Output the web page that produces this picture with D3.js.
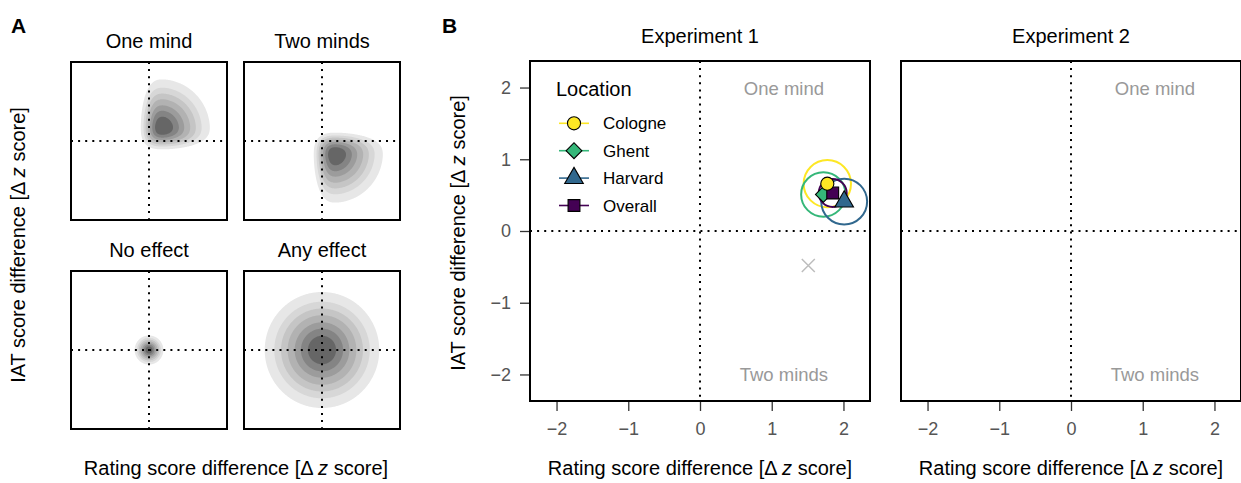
<!DOCTYPE html>
<html><head><meta charset="utf-8">
<script src="https://cdn.jsdelivr.net/npm/d3@7"></script>
<style>body{margin:0;background:#fff} text{font-family:"Liberation Sans",Arial,Helvetica,sans-serif}</style>
</head><body><svg id="c" width="1241" height="483"></svg>
<script>
// ---------- data ----------
const locations = ["Cologne", "Ghent", "Harvard", "Overall"];
const locColors = ["#FDE725", "#35B779", "#31688E", "#440154"];
const locShapes = ["circle", "diamond", "triangle", "square"];
const exp1X = [1.775, 1.72, 2.01, 1.85];     // rating score difference
const exp1Y = [0.66, 0.51, 0.41, 0.53];      // IAT score difference
const exp1R = [0.33, 0.31, 0.32, 0.195];     // confidence circle radius
const drawOrder = [1, 2, 3, 0];
const refX = [1.51];
const refY = [-0.48];
const tickValues = [-2, -1, 0, 1, 2];
const experiments = ["Experiment 1", "Experiment 2"];
const quadrantLabels = ["One mind", "Two minds"];
const quadrantLabelX = [1.17, 1.17];
const quadrantLabelY = [2, -2];
// schematic panel A
const schematicTitles = ["One mind", "Two minds", "No effect", "Any effect"];
const schematicMuX = [0.35, 0.35, 0, 0];
const schematicMuY = [0.35, -0.35, 0, 0];
const schematicSd = [0.62, 0.62, 0.18, 0.72];
const schematicTruncX = [1, 1, 0, 0];
const schematicTruncY = [1, -1, 0, 0];
const schematicSoft = [0.18, 0.18, 1, 1];
const densityLevels = [0.05, 0.125, 0.216, 0.34, 0.505, 0.667, 0.835];
const bandGrays = ["#e7e7e7", "#d7d7d7", "#c5c5c5", "#b2b2b2", "#9c9c9c", "#848484", "#666666"];

// ---------- helpers ----------
const svg = d3.select("#c");
svg.append("rect").attr("width", 1241).attr("height", 483).attr("fill", "#fff");
function Phi(z) {
  const t = 1 / (1 + 0.2316419 * Math.abs(z));
  const d = 0.3989423 * Math.exp(-z * z / 2);
  const p = d * t * (0.3193815 + t * (-0.3565638 + t * (1.781478 + t * (-1.821256 + t * 1.330274))));
  return z > 0 ? 1 - p : p;
}
const DOT = "2,5.1";
const tickFmt = d => (d < 0 ? "\u2212" : "") + Math.abs(d);
function labelText(g, base) {
  g.append("tspan").text(base + " [\u0394 ");
  g.append("tspan").attr("font-style", "italic").text("z");
  g.append("tspan").text(" score]");
}
function symbolPath(shape) {
  const map = {circle: [d3.symbolCircle, 135], diamond: [d3.symbolSquare, 125], triangle: [d3.symbolTriangle, 150], square: [d3.symbolSquare, 140]};
  const s = map[shape];
  return d3.symbol().type(s[0]).size(s[1])();
}
function drawSymbol(g, shape, color, cx, cy) {
  g.append("path").attr("d", symbolPath(shape))
    .attr("transform", `translate(${cx},${cy})` + (shape === "diamond" ? " rotate(45)" : ""))
    .attr("fill", color).attr("stroke", "#000").attr("stroke-width", 1.1);
}

// ---------- Panel A ----------
const aCols = [71, 244], aRows = [62, 271], aW = 156, aH = 158;
const n = 220, lo = -2.4, hi = 2.4, step = (hi - lo) / n;
schematicTitles.forEach((title, k) => {
  const bx = aCols[k % 2], by = aRows[Math.floor(k / 2)];
  const xs = d3.scaleLinear().domain([lo, hi]).range([bx, bx + aW]);
  const ys = d3.scaleLinear().domain([lo, hi]).range([by + aH, by]);
  const vals = new Float64Array(n * n);
  let mx = 0;
  for (let j = 0; j < n; j++) for (let i = 0; i < n; i++) {
    const x = lo + (i + 0.5) * step, y = lo + (j + 0.5) * step;
    let v = Math.exp(-((x - schematicMuX[k]) ** 2 + (y - schematicMuY[k]) ** 2) / (2 * schematicSd[k] ** 2));
    if (schematicTruncX[k]) v *= Phi(schematicTruncX[k] * x / schematicSoft[k]);
    if (schematicTruncY[k]) v *= Phi(schematicTruncY[k] * y / schematicSoft[k]);
    vals[i + j * n] = v; if (v > mx) mx = v;
  }
  for (let q = 0; q < vals.length; q++) vals[q] /= mx;
  const contours = d3.contours().size([n, n]).thresholds(densityLevels)(vals);
  const proj = d3.geoTransform({point(gx, gy) { this.stream.point(xs(lo + gx * step), ys(lo + gy * step)); }});
  const path = d3.geoPath(proj);
  const g = svg.append("g");
  g.selectAll("path.band").data(contours).join("path").attr("class", "band")
    .attr("d", path).attr("fill", (d, i) => bandGrays[i]).attr("stroke", "none");
  g.append("line").attr("x1", xs(0)).attr("x2", xs(0)).attr("y1", by).attr("y2", by + aH)
    .attr("stroke", "#000").attr("stroke-width", 2).attr("stroke-dasharray", DOT);
  g.append("line").attr("x1", bx).attr("x2", bx + aW).attr("y1", ys(0)).attr("y2", ys(0))
    .attr("stroke", "#000").attr("stroke-width", 2).attr("stroke-dasharray", DOT);
  g.append("rect").attr("x", bx).attr("y", by).attr("width", aW).attr("height", aH)
    .attr("fill", "none").attr("stroke", "#000").attr("stroke-width", 2);
  svg.append("text").attr("x", bx + aW / 2).attr("y", by - 14).attr("text-anchor", "middle")
    .attr("font-size", 20).attr("fill", "#000").text(title);
});
svg.append("text").attr("x", 11).attr("y", 33).attr("font-size", 21).attr("font-weight", "bold").text("A");
labelText(svg.append("text").attr("x", 236).attr("y", 475).attr("text-anchor", "middle").attr("font-size", 20), "Rating score difference");
labelText(svg.append("text").attr("transform", "translate(25,245) rotate(-90)").attr("text-anchor", "middle").attr("font-size", 20), "IAT score difference");

// ---------- Panel B ----------
svg.append("text").attr("x", 442).attr("y", 33).attr("font-size", 21).attr("font-weight", "bold").text("B");
const bX0 = [530, 901], bY0 = 61, bW = 340, bH = 340, bDom = [-2.37, 2.37];
experiments.forEach((title, e) => {
  const xs = d3.scaleLinear().domain(bDom).range([bX0[e], bX0[e] + bW]);
  const ys = d3.scaleLinear().domain(bDom).range([bY0 + bH, bY0]);
  const g = svg.append("g");
  g.append("line").attr("x1", xs(0)).attr("x2", xs(0)).attr("y1", bY0).attr("y2", bY0 + bH)
    .attr("stroke", "#000").attr("stroke-width", 2).attr("stroke-dasharray", DOT);
  g.append("line").attr("x1", bX0[e]).attr("x2", bX0[e] + bW).attr("y1", ys(0)).attr("y2", ys(0))
    .attr("stroke", "#000").attr("stroke-width", 2).attr("stroke-dasharray", DOT);
  quadrantLabels.forEach((q, i) => {
    g.append("text").attr("x", xs(quadrantLabelX[i])).attr("y", ys(quadrantLabelY[i]) + 7)
      .attr("text-anchor", "middle").attr("font-size", 18.5).attr("fill", "#999").text(q);
  });
  if (e === 0) {
    refX.forEach((rx, i) => {
      const cx = xs(rx), cy = ys(refY[i]);
      g.append("path").attr("d", `M${cx - 6.5},${cy - 6.5}L${cx + 6.5},${cy + 6.5}M${cx - 6.5},${cy + 6.5}L${cx + 6.5},${cy - 6.5}`)
        .attr("stroke", "#bdbdbd").attr("stroke-width", 1.5).attr("fill", "none");
    });
    const pxPerUnit = xs(1) - xs(0);
    locations.forEach((loc, i) => {
      g.append("circle").attr("cx", xs(exp1X[i])).attr("cy", ys(exp1Y[i])).attr("r", exp1R[i] * pxPerUnit)
        .attr("fill", "none").attr("stroke", locColors[i]).attr("stroke-width", 2);
    });
    drawOrder.forEach(i => drawSymbol(g, locShapes[i], locColors[i], xs(exp1X[i]), ys(exp1Y[i])));
    g.append("text").attr("x", 556).attr("y", 96).attr("font-size", 20).attr("fill", "#000").text("Location");
    locations.forEach((loc, i) => {
      const ly = 123.3 + i * 27.4;
      g.append("line").attr("x1", 559).attr("x2", 589).attr("y1", ly).attr("y2", ly)
        .attr("stroke", locColors[i]).attr("stroke-width", 1.6);
      drawSymbol(g, locShapes[i], locColors[i], 574, ly);
      g.append("text").attr("x", 603).attr("y", ly + 6).attr("font-size", 17).attr("fill", "#000").text(loc);
    });
    const ya = svg.append("g").attr("transform", `translate(${bX0[e] - 1},0)`)
      .call(d3.axisLeft(ys).tickValues(tickValues).tickFormat(tickFmt).tickSize(9).tickPadding(9));
    ya.select(".domain").remove();
    ya.selectAll(".tick line").attr("stroke", "#333").attr("stroke-width", 1.3);
    ya.selectAll(".tick text").attr("font-size", 18).attr("fill", "#555").attr("font-family", "Liberation Sans, Arial, sans-serif");
    labelText(svg.append("text").attr("transform", `translate(465,${bY0 + bH / 2 + 2}) rotate(-90)`).attr("text-anchor", "middle").attr("font-size", 20), "IAT score difference");
  }
  g.append("rect").attr("x", bX0[e]).attr("y", bY0).attr("width", bW).attr("height", bH)
    .attr("fill", "none").attr("stroke", "#000").attr("stroke-width", 2);
  const xa = svg.append("g").attr("transform", `translate(0,${bY0 + bH + 1})`)
    .call(d3.axisBottom(xs).tickValues(tickValues).tickFormat(tickFmt).tickSize(9).tickPadding(11));
  xa.select(".domain").remove();
  xa.selectAll(".tick line").attr("stroke", "#333").attr("stroke-width", 1.3);
  xa.selectAll(".tick text").attr("font-size", 18).attr("fill", "#555").attr("font-family", "Liberation Sans, Arial, sans-serif");
  svg.append("text").attr("x", xs(0)).attr("y", 43).attr("text-anchor", "middle").attr("font-size", 20).text(title);
  labelText(svg.append("text").attr("x", xs(0)).attr("y", 475).attr("text-anchor", "middle").attr("font-size", 20), "Rating score difference");
});
</script></body></html>
